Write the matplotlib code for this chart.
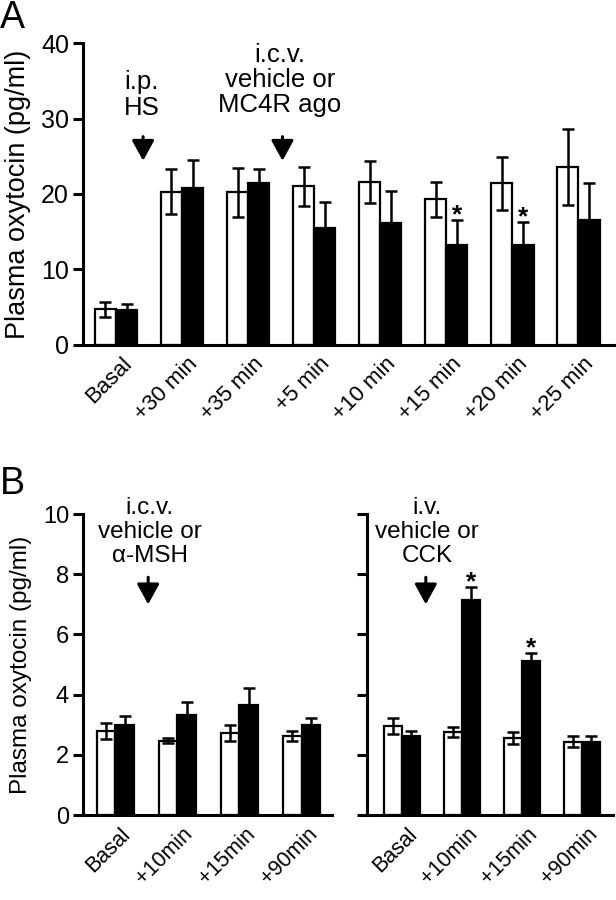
import matplotlib
matplotlib.use("Agg")
import matplotlib.pyplot as plt
import matplotlib.transforms as mtransforms
import numpy as np

plt.rcParams['font.family'] = ['Liberation Sans', 'DejaVu Sans']

# ---------------- data ----------------
a_labels = ["Basal", "+30 min", "+35 min", "+5 min", "+10 min", "+15 min", "+20 min", "+25 min"]
a_vehicle = [4.7, 20.3, 20.2, 21.0, 21.6, 19.3, 21.4, 23.6]
a_vehicle_err = [1.0, 3.0, 3.3, 2.6, 2.8, 2.3, 3.5, 5.0]
a_agonist = [4.6, 20.8, 21.4, 15.5, 16.1, 13.2, 13.2, 16.5]
a_agonist_err = [0.8, 3.7, 1.9, 3.5, 4.3, 3.4, 3.1, 4.9]
a_sig = [False, False, False, False, False, True, True, False]

b_labels = ["Basal", "+10min", "+15min", "+90min"]
b1_vehicle = [2.79, 2.47, 2.72, 2.63]
b1_vehicle_err = [0.26, 0.08, 0.27, 0.16]
b1_msh = [2.99, 3.33, 3.66, 2.99]
b1_msh_err = [0.31, 0.41, 0.57, 0.25]

b2_vehicle = [2.97, 2.77, 2.57, 2.44]
b2_vehicle_err = [0.27, 0.17, 0.20, 0.19]
b2_cck = [2.61, 7.13, 5.12, 2.44]
b2_cck_err = [0.19, 0.44, 0.28, 0.19]
b2_sig = [False, True, True, False]

fig = plt.figure(figsize=(6.16, 9.0), dpi=100)

def style_axis(ax, ylim, yticks, show_labels=True, fs=16):
    for s in ['top', 'right']:
        ax.spines[s].set_visible(False)
    for s in ['left', 'bottom']:
        ax.spines[s].set_linewidth(2.2)
    ax.set_ylim(*ylim)
    ax.set_yticks(yticks)
    ax.tick_params(axis='y', direction='out', length=7, width=2.2, labelsize=fs, pad=3)
    ax.tick_params(axis='x', length=0, pad=4)
    if not show_labels:
        ax.set_yticklabels([])

def draw_bars(ax, x, v1, e1, v2, e2, w):
    ax.bar(x - w / 2, v1, width=w, color='white', edgecolor='black', linewidth=1.6, zorder=2)
    ax.bar(x + w / 2, v2, width=w, color='black', edgecolor='black', linewidth=1.6, zorder=2)
    ax.errorbar(x - w / 2, v1, yerr=e1, fmt='none', ecolor='black', elinewidth=1.8,
                capsize=4.5, capthick=1.8, zorder=3)
    ax.errorbar(x + w / 2, v2, yerr=[np.zeros(len(v2)), e2], fmt='none', ecolor='black',
                elinewidth=1.8, capsize=4.5, capthick=1.8, zorder=3)

def set_xlabels(ax, x, labels, fs, dx, dy):
    ax.set_xticks(x)
    ax.set_xticklabels(labels, rotation=45, ha='right', va='top', rotation_mode='anchor', fontsize=fs)
    off = mtransforms.ScaledTranslation(dx / 100, -dy / 100, fig.dpi_scale_trans)
    for t in ax.get_xticklabels():
        t.set_transform(t.get_transform() + off)

def arrow(ax, x, y0, y1):
    ax.annotate('', xy=(x, y1), xytext=(x, y0),
                arrowprops=dict(arrowstyle='-|>,head_width=0.34,head_length=0.62',
                                color='black', lw=2.2, mutation_scale=20, shrinkA=0, shrinkB=0))

def star(ax, x, y):
    ax.annotate('*', xy=(x, y), xytext=(0, -1.8), textcoords='offset points',
                ha='center', va='baseline', fontsize=19, fontweight='bold')

# ---------------- Panel A ----------------
axA = fig.add_axes([0.1347, 0.6167, 0.8633, 0.3355])
xa = np.arange(len(a_labels))
wa = 0.32
draw_bars(axA, xa, a_vehicle, a_vehicle_err, a_agonist, a_agonist_err, wa)
style_axis(axA, (0, 40), [0, 10, 20, 30, 40], fs=18)
axA.set_xlim(-0.5, 7.55)
set_xlabels(axA, xa, a_labels, 16, 5, 3)
axA.set_ylabel('Plasma oxytocin (pg/ml)', fontsize=19.5, labelpad=7)
for i, s in enumerate(a_sig):
    if s:
        star(axA, xa[i] + wa / 2, a_agonist[i] + a_agonist_err[i])
axA.text(0.39, 33.1, 'i.p.\nHS', ha='center', va='center', fontsize=18.5, linespacing=1.07)
arrow(axA, 0.41, 27.6, 24.4)
axA.text(2.48, 35.1, 'i.c.v.\nvehicle or\nMC4R ago', ha='center', va='center', fontsize=18.5,
         linespacing=1.07)
arrow(axA, 2.52, 27.6, 24.4)
fig.text(0.0, 1.0, 'A', fontsize=27, ha='left', va='top')

# ---------------- Panel B left ----------------
xb = np.arange(len(b_labels))
wb = 0.30
axB1 = fig.add_axes([0.1347, 0.0944, 0.4043, 0.3344])
draw_bars(axB1, xb, b1_vehicle, b1_vehicle_err, b1_msh, b1_msh_err, wb)
style_axis(axB1, (0, 10), [0, 2, 4, 6, 8, 10], fs=17)
axB1.set_xlim(-0.52, 3.49)
set_xlabels(axB1, xb, b_labels, 15.5, 5, 3)
axB1.set_ylabel('Plasma oxytocin (pg/ml)', fontsize=17.5, labelpad=8)
axB1.text(0.556, 9.41, 'i.c.v.\nvehicle or\n\u03b1-MSH', ha='center', va='center', fontsize=17.5,
          linespacing=1.13)
arrow(axB1, 0.53, 7.9, 7.0)
fig.text(0.0, 0.462, 'B', fontsize=27, ha='left', va='center')

# ---------------- Panel B right ----------------
axB2 = fig.add_axes([0.5958, 0.0944, 0.3994, 0.3344])
draw_bars(axB2, xb, b2_vehicle, b2_vehicle_err, b2_cck, b2_cck_err, wb)
style_axis(axB2, (0, 10), [0, 2, 4, 6, 8, 10], show_labels=False, fs=17)
axB2.set_xlim(-0.58, 3.52)
set_xlabels(axB2, xb, b_labels, 15.5, 5, 3)
for i, s in enumerate(b2_sig):
    if s:
        star(axB2, xb[i] + wb / 2, b2_cck[i] + b2_cck_err[i])
axB2.text(0.42, 9.41, 'i.v.\nvehicle or\nCCK', ha='center', va='center', fontsize=17.5,
          linespacing=1.13)
arrow(axB2, 0.40, 7.9, 7.0)

fig.savefig('out.png', dpi=100)
